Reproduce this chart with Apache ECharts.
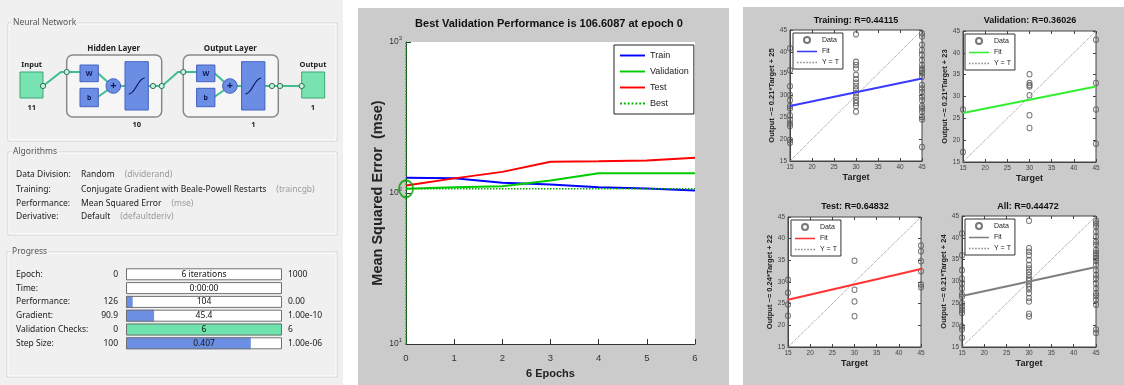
<!DOCTYPE html>
<html><head><meta charset="utf-8">
<script src="https://cdn.jsdelivr.net/npm/echarts@6/dist/echarts.min.js"></script>
<style>html,body{margin:0;padding:0;background:#fff}#c{width:1124px;height:385px}</style>
</head><body><div id="c"></div>
<script>
// ---------------- DATA ----------------
const epochs = [0, 1, 2, 3, 4, 5, 6];
const trainPerf = [126, 125, 117, 114, 109, 107, 104];
const validationPerf = [106.6087, 109, 111, 121, 135, 135, 135];
const testPerf = [112, 125, 138, 161, 162, 164, 171];
const bestEpoch = 0;
const bestPerf = 106.6087;
const perfRange = [10, 1000];
const perfTitle = 'Best Validation Performance is 106.6087 at epoch 0';

const regTicks = [15, 45];
const trainAt15 = [40.8, 35.8, 32.1, 30.1, 28.9, 27.6, 27.0, 25.5, 24.4, 23.6, 23.0, 19.8, 19.2];
const trainAt30 = [44.0, 37.7, 37.0, 36.2, 34.7, 33.8, 32.9, 32.1, 31.4, 30.5, 29.7, 28.9, 28.3, 27.6, 26.3];
const trainAt45 = [44.2, 43.5, 41.6, 40.4, 39.3, 38.1, 37.0, 36.2, 35.7, 35.1, 34.3, 32.4, 31.6, 30.8, 29.7, 28.9, 27.6, 27.0, 26.3, 25.1, 24.5, 18.2];
const valAt15 = [27.0, 17.3];
const valAt30 = [35.1, 33.1, 32.6, 32.3, 30.3, 25.7, 22.8];
const valAt45 = [43.0, 33.1, 27.0, 19.2];
const testAt15 = [30.5, 27.5, 24.8, 22.2];
const testAt30 = [34.9, 28.2, 25.5, 22.1];
const testAt45 = [38.4, 37.1, 34.8, 32.5, 29.4, 28.8];
const allAt15 = [41.0, 36.0, 32.6, 30.7, 29.5, 28.4, 27.1, 26.5, 25.0, 24.2, 23.5, 22.8, 19.7, 19.0, 17.1];
const allAt30 = [43.9, 37.6, 36.8, 36.0, 34.9, 33.8, 33.0, 32.2, 31.5, 30.7, 30.2, 29.5, 28.8, 28.2, 27.3, 26.2, 25.4, 22.6, 22.0];
const allAt45 = [43.9, 43.3, 42.6, 41.4, 40.3, 39.1, 38.4, 37.2, 36.5, 35.9, 35.3, 34.7, 33.8, 32.6, 31.5, 30.7, 29.5, 28.4, 27.3, 26.7, 25.8, 24.7, 19.0, 18.2];
const trainFit = [27.6, 33.9];
const valFit = [26.2, 32.3];
const testFit = [25.9, 33.0];
const allFit = [26.7, 33.3];
const regTitles = ['Training: R=0.44115', 'Validation: R=0.36026', 'Test: R=0.64832', 'All: R=0.44472'];
const regYNames = ['Output ~= 0.21*Target + 25', 'Output ~= 0.21*Target + 23', 'Output ~= 0.24*Target + 22', 'Output ~= 0.21*Target + 24'];

const progressNames = ['Epoch:', 'Time:', 'Performance:', 'Gradient:', 'Validation Checks:', 'Step Size:'];
const progressStart = ['0', ' ', '126', '90.9', '0', '100'];
const progressCurrent = ['6 iterations', '0:00:00', '104', '45.4', '6', '0.407'];
const progressTarget = ['1000', ' ', '0.00', '1.00e-10', '6', '1.00e-06'];
const progressFill = [0.006, 0, 0.043, 0.18, 1, 0.8];

const algoNames = ['Data Division:', 'Training:', 'Performance:', 'Derivative:'];
const algoValues = ['Random', 'Conjugate Gradient with Beale-Powell Restarts', 'Mean Squared Error', 'Default'];
const algoHints = ['(dividerand)', '(traincgb)', '(mse)', '(defaultderiv)'];

const inputSize = '11';
const hiddenSize = '10';
const outputSize = '1';
const outputLayerSize = '1';

// ---------------- STYLE ----------------
const SANS = "'Liberation Sans',Arial,sans-serif";
const UI = "'Noto Sans','Open Sans',sans-serif";
const GRAYBG = '#cbcbcb';
const PANEL = '#f0f0f0';
const BLUE = '#6b8de3', BLUE_S = '#4262c2', TEAL = '#3fbf8f', MINT = '#78e2b0', MINT_S = '#3aa877', NAVY = '#0b1a5c';
const LINE_ICON = 'path://M0,0H26V2H0Z';
let dots = '';
for (let k = 0; k < 7; k++) dots += 'M' + (k * 4) + ',0H' + (k * 4 + 2) + 'V2H' + (k * 4) + 'Z';
const DOT_ICON = 'path://' + dots;

const chart = echarts.init(document.getElementById('c'), null, {renderer: 'canvas'});

// ---------------- GRAPHIC (panels + network diagram) ----------------
const g = [];
g.push({type: 'rect', z: -10, shape: {x: 0, y: 0, width: 343, height: 385}, style: {fill: PANEL}});
g.push({type: 'rect', z: -10, shape: {x: 358, y: 8, width: 371, height: 377}, style: {fill: GRAYBG}});
g.push({type: 'rect', z: -10, shape: {x: 743, y: 7, width: 381, height: 378}, style: {fill: GRAYBG}});
function section(x, y, w, h, title) {
  g.push({type: 'rect', z: -5, shape: {x: x, y: y, width: w, height: h}, style: {fill: 'none', stroke: '#d2d2d2', lineWidth: 1}});
  g.push({type: 'rect', z: -5, shape: {x: x + 1, y: y + 1, width: w - 2, height: h - 2}, style: {fill: 'none', stroke: '#ffffff', lineWidth: 1}});
  g.push({type: 'text', z: 2, x: x + 4, y: y, style: {text: title, font: '8.5px ' + UI, fill: '#555', verticalAlign: 'middle', backgroundColor: PANEL, padding: [0, 1]}});
}
section(8, 23, 329, 118, 'Neural Network');
section(8, 152, 329, 83, 'Algorithms');
section(7, 252, 330, 125, 'Progress');

function txt(x, y, t, opts) {
  g.push({type: 'text', z: 3, x: x, y: y, style: Object.assign({text: t, font: 'bold 7.5px ' + UI, fill: '#222', align: 'center', verticalAlign: 'middle'}, opts || {})});
}
function line(points, opts) {
  g.push({type: 'polyline', z: 2, shape: {points: points}, style: Object.assign({stroke: TEAL, lineWidth: 2, fill: null}, opts || {})});
}
function node(x, y) {
  g.push({type: 'circle', z: 4, shape: {cx: x, cy: y, r: 2.6}, style: {fill: '#c9f2de', stroke: '#2f6f55', lineWidth: 1}});
}
function layer(x0, title, size) {
  g.push({type: 'rect', z: 1, shape: {x: x0, y: 55, width: 95, height: 62, r: 6}, style: {fill: '#f6f6f6', stroke: '#8a8a8a', lineWidth: 1.5}});
  txt(x0 + 47, 48.5, title, {font: 'bold 8px ' + UI});
  line([[x0, 72], [x0 + 13.3, 72]]);
  line([[x0 + 31, 73], [x0 + 41, 82]]);
  line([[x0 + 31, 97], [x0 + 41, 90]]);
  line([[x0 + 53, 86], [x0 + 58.3, 86]]);
  g.push({type: 'rect', z: 3, shape: {x: x0 + 13.3, y: 65, width: 18.3, height: 16.7}, style: {fill: BLUE, stroke: BLUE_S, lineWidth: 1}});
  txt(x0 + 22.5, 73.5, 'W', {fill: NAVY, font: 'bold 7px ' + UI});
  g.push({type: 'rect', z: 3, shape: {x: x0 + 13.3, y: 88.3, width: 18.3, height: 18.4}, style: {fill: BLUE, stroke: BLUE_S, lineWidth: 1}});
  txt(x0 + 22.5, 97.5, 'b', {fill: NAVY, font: 'bold 7px ' + UI});
  g.push({type: 'circle', z: 3, shape: {cx: x0 + 46.6, cy: 86, r: 7.3}, style: {fill: BLUE, stroke: BLUE_S, lineWidth: 1}});
  txt(x0 + 46.6, 86, '+', {fill: NAVY, font: 'bold 11px ' + UI});
  g.push({type: 'rect', z: 3, shape: {x: x0 + 58.3, y: 61.7, width: 23.3, height: 48.3}, style: {fill: BLUE, stroke: BLUE_S, lineWidth: 1}});
  g.push({type: 'bezierCurve', z: 4, shape: {x1: x0 + 62, y1: 94, cpx1: x0 + 69, cpy1: 94, cpx2: x0 + 71, cpy2: 78, x2: x0 + 78, y2: 78}, style: {stroke: NAVY, lineWidth: 1.2, fill: null}});
  txt(x0 + 70, 125, size, {font: 'bold 7.5px ' + UI});
  node(x0, 72);
}
g.push({type: 'rect', z: 3, shape: {x: 20, y: 72, width: 23, height: 26}, style: {fill: MINT, stroke: MINT_S, lineWidth: 1}});
txt(31.7, 65, 'Input');
txt(31.7, 108, inputSize);
g.push({type: 'rect', z: 3, shape: {x: 301.7, y: 72, width: 23, height: 26}, style: {fill: MINT, stroke: MINT_S, lineWidth: 1}});
txt(313, 65, 'Output');
txt(313, 108, outputSize);
line([[43, 86], [61, 72], [66.7, 72]]);
layer(66.7, 'Hidden Layer', hiddenSize);
line([[148, 86], [162, 86], [178, 72], [183.3, 72]]);
layer(183.3, 'Output Layer', outputLayerSize);
line([[265, 86], [301.7, 86]]);
node(43, 86); node(153, 86); node(161.7, 86); node(272, 86); node(280, 86); node(301.7, 86);

algoNames.forEach(function (n, i) {
  const y = [174.3, 189.3, 203.3, 216.7][i];
  g.push({type: 'text', z: 3, x: 16, y: y, style: {text: n, font: '8.5px ' + UI, fill: '#1a1a1a', verticalAlign: 'middle'}});
  g.push({type: 'text', z: 3, x: 81, y: y, style: {
    text: '{v|' + algoValues[i] + '}   {h|' + algoHints[i] + '}', verticalAlign: 'middle',
    rich: {v: {font: '8.5px ' + UI, fill: '#1a1a1a'}, h: {font: '8.5px ' + UI, fill: '#9a9a9a'}}
  }});
});

// ---------------- HELPERS ----------------
function pts(a15, a30, a45) {
  return a15.map(v => [15, v]).concat(a30.map(v => [30, v]), a45.map(v => [45, v]));
}
const regGrids = [
  {left: 790, top: 30, width: 132, height: 131},
  {left: 963, top: 31, width: 133, height: 131},
  {left: 788, top: 217, width: 133, height: 130},
  {left: 962, top: 216, width: 134, height: 131}
];
const regTitlePos = [[856, 21], [1030, 21], [855, 207], [1028, 207]];
const regData = [pts(trainAt15, trainAt30, trainAt45), pts(valAt15, valAt30, valAt45), pts(testAt15, testAt30, testAt45), pts(allAt15, allAt30, allAt45)];
const regFits = [trainFit, valFit, testFit, allFit];
const fitColors = ['#3a3aff', '#33ee33', '#ff3333', '#7f7f7f'];
const tags = ['tr', 'va', 'te', 'al'];

const grids = [{left: 406, top: 42, width: 289, height: 302, show: true, backgroundColor: '#fff', borderWidth: 0}];
regGrids.forEach(r => grids.push(Object.assign({show: true, backgroundColor: '#fff', borderColor: '#444', borderWidth: 1}, r)));
grids.push({left: 126, top: 267.4, width: 156, height: 82.8});

const xAxes = [{
  gridIndex: 0, type: 'value', min: 0, max: 6, interval: 1,
  axisLine: {lineStyle: {color: '#333'}}, axisTick: {inside: true, length: 5, lineStyle: {color: '#333'}},
  splitLine: {show: false},
  axisLabel: {fontFamily: SANS, fontSize: 9.5, color: '#333', margin: 9},
  name: (epochs.length - 1) + ' Epochs', nameLocation: 'middle', nameGap: 24,
  nameTextStyle: {fontFamily: SANS, fontWeight: 'bold', fontSize: 11, color: '#222'}
}];
const yAxes = [{
  gridIndex: 0, type: 'log', logBase: 10, min: perfRange[0], max: perfRange[1],
  axisLine: {show: true, lineStyle: {color: '#333'}}, axisTick: {show: true, inside: true, length: 5, lineStyle: {color: '#333'}},
  splitLine: {show: false},
  axisLabel: {
    margin: 4,
    formatter: v => '{b|10}{s|' + Math.round(Math.log10(v)) + '}',
    rich: {b: {fontFamily: SANS, fontSize: 8.5, color: '#333', lineHeight: 13}, s: {fontFamily: SANS, fontSize: 6, color: '#333', verticalAlign: 'top'}}
  },
  name: 'Mean Squared Error  (mse)', nameLocation: 'middle', nameGap: 19,
  nameTextStyle: {fontFamily: SANS, fontWeight: 'bold', fontSize: 14.5, color: '#222'}
}];
regGrids.forEach((r, i) => {
  const ax = {
    gridIndex: i + 1, type: 'value', min: regTicks[0], max: regTicks[1], interval: 5,
    axisLine: {lineStyle: {color: '#444'}}, axisTick: {inside: true, length: 3, lineStyle: {color: '#444'}},
    splitLine: {show: false},
    axisLabel: {fontFamily: SANS, fontSize: 6.5, color: '#444', margin: 3}
  };
  xAxes.push(Object.assign({}, ax, {name: 'Target', nameLocation: 'middle', nameGap: 12,
    nameTextStyle: {fontFamily: SANS, fontWeight: 'bold', fontSize: 9, color: '#222'}}));
  yAxes.push(Object.assign({}, ax, {name: regYNames[i], nameLocation: 'middle', nameGap: 14,
    nameTextStyle: {fontFamily: SANS, fontWeight: 'bold', fontSize: 7.5, color: '#222'}}));
});
xAxes.push({gridIndex: 5, type: 'value', min: 0, max: 1, show: false});
yAxes.push({
  gridIndex: 5, type: 'category', inverse: true, data: progressNames,
  axisLine: {show: false}, axisTick: {show: false},
  axisLabel: {interval: 0, margin: 8, formatter: (v, i) => '{n|' + v + '}{v|' + progressStart[i] + '}',
    rich: {n: {width: 82, align: 'left', fontFamily: UI, fontSize: 8.5, color: '#1a1a1a'}, v: {width: 20, align: 'right', fontFamily: UI, fontSize: 8.5, color: '#1a1a1a'}}}
});
yAxes.push({
  gridIndex: 5, type: 'category', inverse: true, position: 'right', data: progressTarget,
  axisLine: {show: false}, axisTick: {show: false},
  axisLabel: {interval: 0, margin: 6, fontFamily: UI, fontSize: 8.5, color: '#1a1a1a'}
});
// mirrored tick marks (top / right) for the regression boxes
regGrids.forEach((r, i) => {
  const m = {gridIndex: i + 1, type: 'value', min: regTicks[0], max: regTicks[1], interval: 5,
    axisLine: {show: false}, axisTick: {show: true, inside: true, length: 3, lineStyle: {color: '#444'}},
    axisLabel: {show: false}, splitLine: {show: false}};
  xAxes.push(Object.assign({position: 'top'}, m));
  yAxes.push(Object.assign({position: 'right'}, m));
});

// ---------------- SERIES ----------------
const series = [
  {name: 'Train', type: 'line', xAxisIndex: 0, yAxisIndex: 0, symbol: 'none', data: epochs.map((e, i) => [e, trainPerf[i]]), lineStyle: {color: '#0000ff', width: 2}, itemStyle: {color: '#0000ff'}},
  {name: 'Validation', type: 'line', xAxisIndex: 0, yAxisIndex: 0, symbol: 'none', data: epochs.map((e, i) => [e, validationPerf[i]]), lineStyle: {color: '#00cc00', width: 2}, itemStyle: {color: '#00cc00'}},
  {name: 'Test', type: 'line', xAxisIndex: 0, yAxisIndex: 0, symbol: 'none', data: epochs.map((e, i) => [e, testPerf[i]]), lineStyle: {color: '#ff0000', width: 2}, itemStyle: {color: '#ff0000'}},
  {name: 'Best', type: 'line', xAxisIndex: 0, yAxisIndex: 0, symbol: 'none', data: [[epochs[0], bestPerf], [epochs[epochs.length - 1], bestPerf]], lineStyle: {color: '#00b000', width: 1.5, type: 'dotted'}, itemStyle: {color: '#00b000'}, z: 3},
  {name: 'Best', type: 'line', xAxisIndex: 0, yAxisIndex: 0, symbol: 'none', data: [[bestEpoch, perfRange[0]], [bestEpoch, perfRange[1]]], lineStyle: {color: '#00b000', width: 1.5, type: 'dotted'}, itemStyle: {color: '#00b000'}, z: 3},
  {name: 'bestMark', type: 'scatter', xAxisIndex: 0, yAxisIndex: 0, symbol: 'circle', symbolSize: [14, 17], data: [[bestEpoch, bestPerf]], itemStyle: {color: 'rgba(0,0,0,0)', borderColor: '#00a000', borderWidth: 2}, z: 5}
];
regGrids.forEach((r, i) => {
  series.push({name: 'Data|' + tags[i], type: 'scatter', xAxisIndex: i + 1, yAxisIndex: i + 1, symbol: 'circle', symbolSize: [5, 5.5],
    data: regData[i], itemStyle: {color: 'rgba(255,255,255,0)', borderColor: '#555', borderWidth: 1}, z: 3});
  series.push({name: 'Fit|' + tags[i], type: 'line', xAxisIndex: i + 1, yAxisIndex: i + 1, symbol: 'none',
    data: [[regTicks[0], regFits[i][0]], [regTicks[1], regFits[i][1]]], lineStyle: {color: fitColors[i], width: 2}, itemStyle: {color: fitColors[i]}, z: 4});
  series.push({name: 'Y = T|' + tags[i], type: 'line', xAxisIndex: i + 1, yAxisIndex: i + 1, symbol: 'none',
    data: [[regTicks[0], regTicks[0]], [regTicks[1], regTicks[1]]], lineStyle: {color: '#8a8a8a', width: 1, type: 'dotted'}, itemStyle: {color: '#8a8a8a'}, z: 2});
});
const ones = progressNames.map(() => 1);
series.push({type: 'bar', xAxisIndex: 5, yAxisIndex: 5, data: ones, barWidth: 12, barGap: '-100%', itemStyle: {color: '#fff'}, silent: true, z: 1});
series.push({type: 'bar', xAxisIndex: 5, yAxisIndex: 5, barWidth: 12, barGap: '-100%', silent: true, z: 2,
  data: progressFill.map((v, i) => ({value: v, itemStyle: {color: progressNames[i] === 'Validation Checks:' ? '#6fe3ad' : '#6d8fe3'}}))});
series.push({type: 'bar', xAxisIndex: 5, yAxisIndex: 5, data: ones, barWidth: 12, barGap: '-100%', silent: true, z: 3,
  itemStyle: {color: 'rgba(0,0,0,0)', borderColor: '#707070', borderWidth: 1},
  label: {show: true, position: 'inside', formatter: p => progressCurrent[p.dataIndex], fontFamily: UI, fontSize: 8.5, color: '#111'}});

// ---------------- TITLES / LEGENDS ----------------
const titles = [{text: perfTitle, left: 549, top: 24, textAlign: 'center', textVerticalAlign: 'middle', padding: 0,
  textStyle: {fontFamily: SANS, fontWeight: 'bold', fontSize: 11, color: '#111'}}];
regTitles.forEach((t, i) => titles.push({text: t, left: regTitlePos[i][0], top: regTitlePos[i][1], textAlign: 'center', textVerticalAlign: 'middle', padding: 0,
  textStyle: {fontFamily: SANS, fontWeight: 'bold', fontSize: 9, color: '#111'}}));

const legends = [{
  data: [{name: 'Train', icon: LINE_ICON}, {name: 'Validation', icon: LINE_ICON}, {name: 'Test', icon: LINE_ICON}, {name: 'Best', icon: DOT_ICON}],
  left: 614, top: 45, orient: 'vertical',
  itemWidth: 25, itemHeight: 10, itemGap: 7, padding: [6, 5, 6, 6], borderColor: '#222', borderWidth: 1, borderRadius: 0,
  backgroundColor: '#fff', selectedMode: false, textStyle: {fontFamily: SANS, fontSize: 9, color: '#222'}
}];
const legPos = [[793, 33], [965, 34], [791, 220], [965, 219]];
tags.forEach((t, i) => legends.push({
  data: [{name: 'Data|' + t, icon: 'circle'}, {name: 'Fit|' + t, icon: LINE_ICON}, {name: 'Y = T|' + t, icon: DOT_ICON}],
  left: legPos[i][0], top: legPos[i][1], orient: 'vertical',
  itemWidth: 20, itemHeight: 6, itemGap: 4, padding: [3, 4, 3, 4], borderColor: '#333', borderWidth: 1, borderRadius: 0,
  backgroundColor: '#fff', selectedMode: false, formatter: n => n.split('|')[0],
  textStyle: {fontFamily: SANS, fontSize: 7, color: '#222'}
}));

chart.setOption({
  animation: false,
  backgroundColor: '#ffffff',
  graphic: {elements: g},
  title: titles,
  legend: legends,
  grid: grids,
  xAxis: xAxes,
  yAxis: yAxes,
  series: series
});
</script>
</body></html>
